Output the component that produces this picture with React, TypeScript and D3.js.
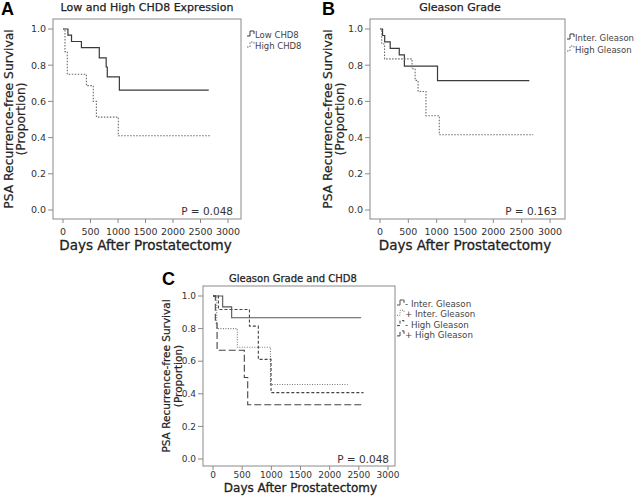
import React from 'react';
import * as d3 from 'd3';

const xTicks = [0, 500, 1000, 1500, 2000, 2500, 3000];
const yTicks = [0, 0.2, 0.4, 0.6, 0.8, 1.0];

// Panel A
const lowCHD8Days = [0, 90, 155, 335, 660, 785, 805, 1025, 2650];
const lowCHD8Surv = [1, 0.966, 0.931, 0.897, 0.84, 0.79, 0.736, 0.662, 0.662];
const highCHD8Days = [0, 36, 78, 425, 550, 607, 1005, 2685];
const highCHD8Surv = [1, 0.875, 0.75, 0.687, 0.6, 0.513, 0.41, 0.41];

// Panel B
const interDays = [0, 45, 83, 180, 340, 430, 1015, 2635];
const interSurv = [1, 0.964, 0.929, 0.893, 0.857, 0.795, 0.715, 0.715];
const highGlDays = [0, 30, 80, 565, 620, 672, 811, 1046, 2705];
const highGlSurv = [1, 0.917, 0.835, 0.78, 0.716, 0.655, 0.521, 0.416, 0.416];

// Panel C
const negInterDays = [0, 166, 320, 2540];
const negInterSurv = [1, 0.933, 0.867, 0.867];
const posInterDays = [0, 63, 417, 985, 2310];
const posInterSurv = [1, 0.8, 0.686, 0.457, 0.457];
const negHighDays = [0, 93, 625, 777, 995, 2580];
const negHighSurv = [1, 0.917, 0.815, 0.611, 0.407, 0.407];
const posHighDays = [0, 40, 70, 537, 595, 2590];
const posHighSurv = [1, 0.833, 0.667, 0.5, 0.333, 0.333];

const FONT = "'DejaVu Sans', Verdana, sans-serif";

type Series = { label: string; days: number[]; surv: number[]; dash?: string; color: string; width: number };

type PanelProps = {
  box: [number, number, number, number];
  xr: [number, number];
  yr: [number, number];
  letter: string; letterX: number; letterY: number; letterSize: number;
  title: string; titleX: number; titleY: number; titleSize: number;
  yTitleX: [number, number]; yTitleSize: number;
  xTitleY: number; xTitleSize: number;
  tickSize: number; tickLabelY: number;
  pText: string; pX: number; pY: number; pSize: number;
  series: Series[];
  legX: number; legY: number; legDy: number; legSize: number;
};

function Panel(p: PanelProps) {
  const [bx0, by0, bx1, by1] = p.box;
  const x = d3.scaleLinear().domain([0, 3000]).range(p.xr);
  const y = d3.scaleLinear().domain([0, 1]).range(p.yr);
  const line = d3.line<[number, number]>().x(d => x(d[0])).y(d => y(d[1])).curve(d3.curveStepAfter);
  const cy = (by0 + by1) / 2;
  const cx = (p.xr[0] + p.xr[1]) / 2;
  return (
    <g fontFamily={FONT}>
      <text x={p.letterX} y={p.letterY} fontSize={p.letterSize} fontWeight="bold" fontFamily="'Liberation Sans', Arial, sans-serif" fill="#000">{p.letter}</text>
      <text x={p.titleX} y={p.titleY} fontSize={p.titleSize} textAnchor="middle" fill="#222" stroke="#222" strokeWidth={0.25}>{p.title}</text>
      <rect x={bx0} y={by0} width={bx1 - bx0} height={by1 - by0} fill="none" stroke="#8a8a8a" strokeWidth={1} />
      {yTicks.map(t => (
        <g key={'y' + t}>
          <line x1={bx0 - 5} x2={bx0} y1={y(t)} y2={y(t)} stroke="#8a8a8a" />
          <text x={bx0 - 7} y={y(t)} dy="0.35em" fontSize={p.tickSize} textAnchor="end" fill="#333">{t.toFixed(1)}</text>
        </g>
      ))}
      {xTicks.map(t => (
        <g key={'x' + t}>
          <line x1={x(t)} x2={x(t)} y1={by1} y2={by1 + 4} stroke="#8a8a8a" />
          <text x={x(t)} y={p.tickLabelY} fontSize={p.tickSize} textAnchor="middle" fill="#333">{t}</text>
        </g>
      ))}
      <text transform={`translate(${p.yTitleX[0]},${cy}) rotate(-90)`} fontSize={p.yTitleSize} textAnchor="middle" dy="0.35em" fill="#222" stroke="#222" strokeWidth={0.2}>PSA Recurrence-free Survival</text>
      <text transform={`translate(${p.yTitleX[1]},${cy}) rotate(-90)`} fontSize={p.yTitleSize} textAnchor="middle" dy="0.35em" fill="#222" stroke="#222" strokeWidth={0.2}>(Proportion)</text>
      <text x={cx} y={p.xTitleY} fontSize={p.xTitleSize} textAnchor="middle" fill="#222" stroke="#222" strokeWidth={0.3}>Days After Prostatectomy</text>
      <text x={p.pX} y={p.pY} fontSize={p.pSize} textAnchor="end" fill="#333">{p.pText}</text>
      {p.series.map((s, i) => (
        <path key={'s' + i} d={line(s.days.map((d, j) => [d, s.surv[j]] as [number, number])) || ''}
          fill="none" stroke={s.color} strokeWidth={s.width} strokeDasharray={s.dash} />
      ))}
      {p.series.map((s, i) => {
        const ly = p.legY + i * p.legDy;
        return (
          <g key={'l' + i}>
            <path d={`M${p.legX},${ly + 1} h3 v-5 h4 v3`} fill="none" stroke={s.color} strokeWidth={1} strokeDasharray={s.dash} />
            <text x={p.legX + 8} y={ly} dy="0.35em" fontSize={p.legSize} fill="#444">{s.label}</text>
          </g>
        );
      })}
    </g>
  );
}

export default function App() {
  const solid = '#3a3a3a';
  const dot = '#6a6a6a';
  const seriesA: Series[] = [
    { label: 'Low CHD8', days: lowCHD8Days, surv: lowCHD8Surv, color: solid, width: 1.2 },
    { label: 'High CHD8', days: highCHD8Days, surv: highCHD8Surv, color: dot, width: 1.1, dash: '1.5,1.5' },
  ];
  const seriesB: Series[] = [
    { label: 'Inter. Gleason', days: interDays, surv: interSurv, color: solid, width: 1.2 },
    { label: 'High Gleason', days: highGlDays, surv: highGlSurv, color: dot, width: 1.1, dash: '1.5,1.5' },
  ];
  const seriesC: Series[] = [
    { label: '- Inter. Gleason', days: negInterDays, surv: negInterSurv, color: '#555', width: 1.1 },
    { label: '+ Inter. Gleason', days: posInterDays, surv: posInterSurv, color: '#777', width: 1.1, dash: '1,1.5' },
    { label: '- High Gleason', days: negHighDays, surv: negHighSurv, color: '#444', width: 1.1, dash: '3,2' },
    { label: '+ High Gleason', days: posHighDays, surv: posHighSurv, color: '#444', width: 1.1, dash: '7,3' },
  ];
  return (
    <svg width={644} height={500} style={{ position: 'absolute', left: 0, top: 0, background: '#fff' }}>
      <rect width={644} height={500} fill="#fff" />
      <Panel box={[53, 19, 241, 219]} xr={[63, 228]} yr={[210, 29]}
        letter="A" letterX={1} letterY={15} letterSize={18}
        title="Low and High CHD8 Expression" titleX={147} titleY={11} titleSize={11}
        yTitleX={[9, 21]} yTitleSize={12.3}
        xTitleY={250} xTitleSize={13.5}
        tickSize={9.5} tickLabelY={235}
        pText="P = 0.048" pX={233} pY={215} pSize={10.5}
        series={seriesA} legX={247} legY={35} legDy={11} legSize={8.5} />
      <Panel box={[370, 19, 565, 219]} xr={[380, 550]} yr={[210, 29]}
        letter="B" letterX={322} letterY={15} letterSize={18}
        title="Gleason Grade" titleX={460} titleY={11} titleSize={11}
        yTitleX={[328, 340]} yTitleSize={12.3}
        xTitleY={250} xTitleSize={13.5}
        tickSize={9.5} tickLabelY={235}
        pText="P = 0.163" pX={557} pY={215} pSize={10.5}
        series={seriesB} legX={567} legY={38} legDy={12} legSize={8.5} />
      <Panel box={[203, 286, 395, 466]} xr={[213, 388]} yr={[459, 296]}
        letter="C" letterX={162} letterY={285} letterSize={18}
        title="Gleason Grade and CHD8" titleX={293} titleY={282} titleSize={10}
        yTitleX={[166, 178]} yTitleSize={10.5}
        xTitleY={492} xTitleSize={12}
        tickSize={9} tickLabelY={478}
        pText="P = 0.048" pX={389} pY={463} pSize={10.5}
        series={seriesC} legX={397} legY={304} legDy={10.3} legSize={8.7} />
    </svg>
  );
}
